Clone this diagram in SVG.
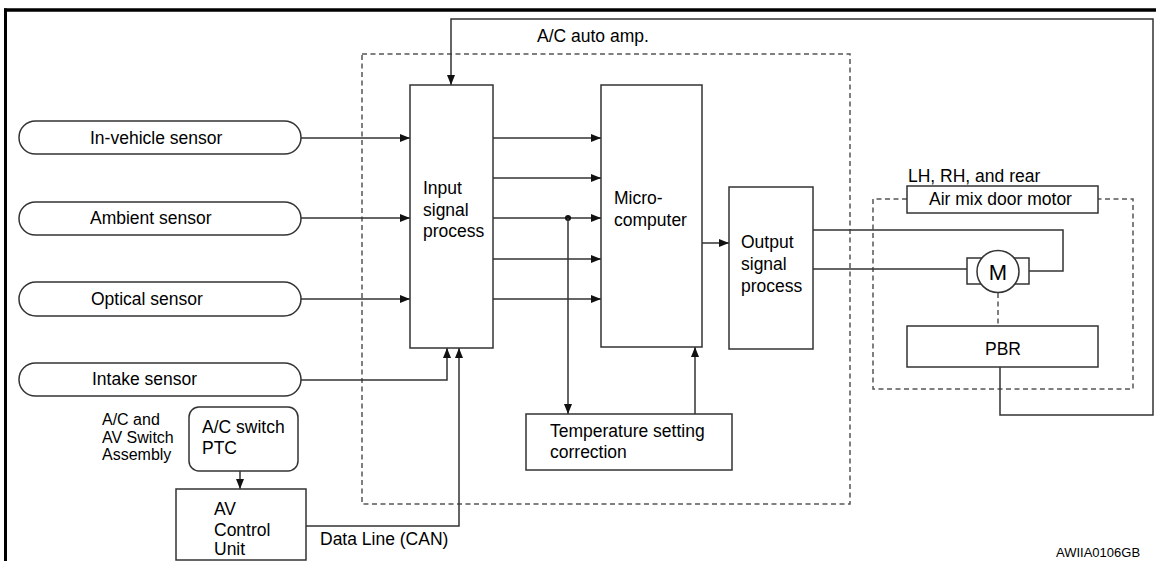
<svg xmlns="http://www.w3.org/2000/svg" width="1156" height="561" viewBox="0 0 1156 561">
<style>
text{font-family:"Liberation Sans",Arial,Helvetica,sans-serif;font-size:17.5px;fill:#000}
.box{fill:#fff;stroke:#333;stroke-width:1.5}
.ln{fill:none;stroke:#333;stroke-width:1.5}
.dash{fill:none;stroke:#555;stroke-width:1.5;stroke-dasharray:5,3.5}
.arr{marker-end:url(#ah)}
.sm{font-size:16px}
</style>
<defs>
<marker id="ah" viewBox="0 0 10 8" refX="10" refY="4" markerWidth="10" markerHeight="8" markerUnits="userSpaceOnUse" orient="auto">
<path d="M0,0 L10,4 L0,8 Z" fill="#111"/>
</marker>
</defs>
<rect width="1156" height="561" fill="#fff"/>
<g id="frame">
<line x1="4" y1="10" x2="1156" y2="10" stroke="#000" stroke-width="3.5"/>
<line x1="5.5" y1="8.5" x2="5.5" y2="561" stroke="#000" stroke-width="3"/>
</g>
<g id="ac-auto-amp">
<rect class="dash" x="362" y="54" width="488" height="450"/>
<text x="537" y="42">A/C auto amp.</text>
</g>
<g id="motor-group">
<path class="dash" d="M907,199 H873 V389 H1133 V199 H1098"/>
<text x="908" y="182">LH, RH, and rear</text>
</g>
<g id="connectors">
<line class="ln arr" x1="301" y1="138" x2="410" y2="138"/>
<line class="ln arr" x1="301" y1="218" x2="410" y2="218"/>
<line class="ln arr" x1="301" y1="299" x2="410" y2="299"/>
<path class="ln arr" d="M301,380 H447 V348"/>
<path class="ln arr" d="M306,526 H459 V348"/>
<path class="ln arr" d="M1000,367 V415 H1153 V19 H451 V85"/>
<line class="ln arr" x1="493" y1="138" x2="601" y2="138"/>
<line class="ln arr" x1="493" y1="178" x2="601" y2="178"/>
<line class="ln arr" x1="493" y1="218" x2="601" y2="218"/>
<line class="ln arr" x1="493" y1="259" x2="601" y2="259"/>
<line class="ln arr" x1="493" y1="299" x2="601" y2="299"/>
<circle cx="568" cy="218" r="3" fill="#111"/>
<line class="ln arr" x1="568" y1="218" x2="568" y2="414"/>
<line class="ln arr" x1="695" y1="414" x2="695" y2="347"/>
<line class="ln arr" x1="702" y1="243" x2="729" y2="243"/>
<line class="ln arr" x1="240" y1="471" x2="240" y2="489"/>
<path class="ln" d="M813,230 H1063 V271 H1029"/>
<line class="ln" x1="813" y1="269" x2="967" y2="269"/>
<line class="dash" x1="998" y1="293" x2="998" y2="326"/>
<text x="320" y="545">Data Line (CAN)</text>
</g>
<g id="in-vehicle-sensor">
<rect class="box" x="19" y="121" width="282" height="33" rx="16.5"/>
<text x="90" y="143.5">In-vehicle sensor</text>
</g>
<g id="ambient-sensor">
<rect class="box" x="19" y="202" width="282" height="33" rx="16.5"/>
<text x="90" y="224">Ambient sensor</text>
</g>
<g id="optical-sensor">
<rect class="box" x="19" y="282" width="282" height="34" rx="17"/>
<text x="91" y="304.5">Optical sensor</text>
</g>
<g id="intake-sensor">
<rect class="box" x="19" y="363" width="282" height="33" rx="16.5"/>
<text x="92" y="385">Intake sensor</text>
</g>
<g id="input-signal-process">
<rect class="box" x="410" y="85" width="83" height="263"/>
<text x="423" y="194">Input</text>
<text x="423" y="215.5">signal</text>
<text x="423" y="237">process</text>
</g>
<g id="micro-computer">
<rect class="box" x="601" y="85" width="101" height="262"/>
<text x="614" y="204">Micro-</text>
<text x="614" y="225.5">computer</text>
</g>
<g id="output-signal-process">
<rect class="box" x="729" y="187" width="84" height="162"/>
<text x="741" y="248">Output</text>
<text x="741" y="270">signal</text>
<text x="741" y="291.5">process</text>
</g>
<g id="temperature-setting-correction">
<rect class="box" x="526" y="414" width="206" height="56"/>
<text x="550" y="437">Temperature setting</text>
<text x="550" y="457.5">correction</text>
</g>
<g id="ac-switch-assembly">
<text class="sm" x="102" y="425">A/C and</text>
<text class="sm" x="102" y="442.5">AV Switch</text>
<text class="sm" x="102" y="460">Assembly</text>
<rect class="box" x="189" y="407" width="109" height="64" rx="10"/>
<text x="202" y="433">A/C switch</text>
<text x="202" y="453.5">PTC</text>
</g>
<g id="av-control-unit">
<rect class="box" x="176" y="489" width="130" height="71"/>
<text x="214" y="515">AV</text>
<text x="214" y="536">Control</text>
<text x="214" y="555">Unit</text>
</g>
<g id="air-mix-door-motor">
<rect class="box" x="907" y="186" width="191" height="27"/>
<text x="929" y="205">Air mix door motor</text>
</g>
<g id="motor">
<rect class="box" x="967" y="258" width="62" height="26"/>
<circle class="box" cx="998" cy="271.5" r="21"/>
<text x="998" y="280" text-anchor="middle" style="font-size:22px">M</text>
</g>
<g id="pbr">
<rect class="box" x="907" y="326" width="191" height="41"/>
<text x="1003" y="355" text-anchor="middle">PBR</text>
</g>
<g id="code">
<text x="1056" y="557" style="font-size:13px">AWIIA0106GB</text>
</g>
</svg>
